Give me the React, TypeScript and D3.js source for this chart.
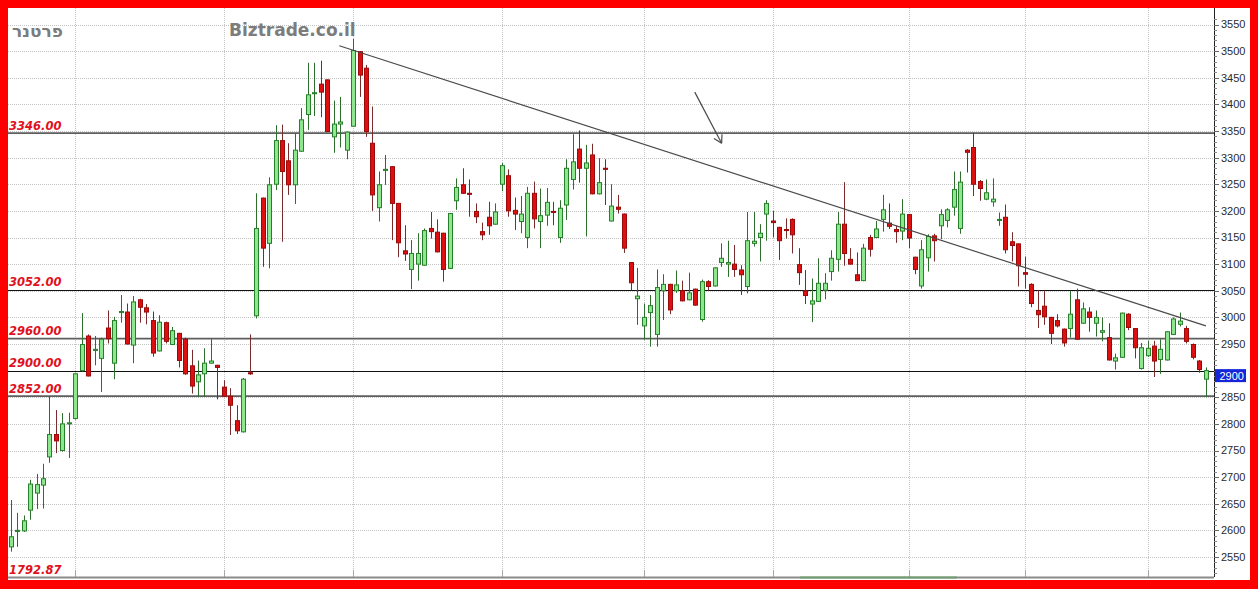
import React from 'react';
import * as d3 from 'd3';

// Daily OHLC for פרטנר (candles in chronological order)
const opens = [
  2569, 2598, 2599, 2638, 2670, 2685, 2738, 2780, 2750, 2800, 2810, 2900, 2965, 2938, 2923, 2980, 2914, 3009, 3010, 2948,
  3033, 3018, 2994, 2937, 2990, 2949, 2970, 2959, 2909, 2879, 2894, 2914, 2910, 2869, 2852, 2806, 2785, 2896,
  3003, 3224, 3139, 3250, 3332, 3294, 3249, 3312, 3381, 3420, 3438, 3446, 3339, 3363, 3314, 3359, 3499, 3468, 3327, 3206,
  3276, 3283, 3214, 3125, 3090, 3100, 3098, 3167, 3160, 3158, 3092, 3219, 3249, 3233, 3199, 3161, 3188,
  3175, 3250, 3266, 3201, 3180, 3150, 3233, 3180, 3192, 3199, 3150, 3211, 3259, 3316, 3280, 3305, 3232, 3280, 3181, 3207,
  3194, 3103, 3035, 2984, 3009, 2968, 3050, 3062, 3050, 3050, 3033, 3053, 2996, 3067, 3059, 3103, 3100,
  3100, 3089, 3058, 3139, 3150, 3194, 3181, 3169, 3165, 3184, 3099, 3050, 3025, 3030, 3051, 3086, 3109, 3175, 3109, 3080,
  3069, 3150, 3150, 3184, 3177, 3165, 3162, 3193, 3113, 3059, 3112, 3153, 3172, 3182, 3207, 3167, 3314,
  3319, 3255, 3222, 3217, 3182, 3188, 3142, 3138, 3084, 3062, 3013, 3021, 3000, 2994, 2978, 2979, 3033, 2989, 3010, 2989,
  2972, 2962, 2918, 2925, 3006, 2979, 2904, 2928, 2946, 2921, 2920, 2968, 2987, 2979, 2949, 2918, 2884,
];
const highs = [
  2657, 2633, 2628, 2695, 2706, 2725, 2851, 2826, 2820, 2821, 2895, 3008, 2968, 2965, 2962, 3013, 3001, 3042, 3026, 3040,
  3035, 3025, 3011, 3004, 2992, 2982, 2971, 2962, 2939, 2919, 2942, 2959, 2911, 2882, 2867, 2835, 2886, 2968,
  3233, 3225, 3263, 3361, 3362, 3327, 3346, 3393, 3478, 3478, 3482, 3447, 3407, 3414, 3349, 3523, 3500, 3474, 3396, 3274,
  3305, 3284, 3215, 3173, 3145, 3158, 3167, 3198, 3184, 3159, 3196, 3261, 3280, 3259, 3214, 3178, 3217,
  3214, 3290, 3278, 3225, 3228, 3245, 3255, 3242, 3243, 3217, 3220, 3297, 3344, 3351, 3324, 3326, 3299, 3297, 3250, 3230,
  3195, 3104, 3093, 3026, 3042, 3090, 3081, 3063, 3088, 3069, 3084, 3054, 3071, 3070, 3094, 3139, 3144,
  3136, 3098, 3198, 3198, 3175, 3220, 3200, 3170, 3186, 3186, 3130, 3089, 3073, 3111, 3083, 3126, 3198, 3254, 3130, 3122,
  3138, 3155, 3181, 3230, 3214, 3172, 3222, 3194, 3114, 3145, 3156, 3157, 3203, 3205, 3274, 3274, 3316,
  3347, 3258, 3259, 3261, 3197, 3212, 3160, 3139, 3114, 3064, 3051, 3051, 3001, 3006, 2979, 3050, 3054, 3028, 3019, 3013,
  3000, 2989, 2932, 3009, 3008, 2980, 2952, 2956, 2956, 2959, 2974, 3000, 3009, 2984, 2951, 2920, 2906,
];
const lows = [
  2560, 2569, 2597, 2620, 2640, 2641, 2727, 2745, 2748, 2736, 2808, 2898, 2889, 2910, 2860, 2951, 2884, 2990, 2949, 2914,
  2990, 2987, 2926, 2936, 2951, 2948, 2906, 2892, 2857, 2850, 2851, 2913, 2846, 2851, 2779, 2781, 2784, 2892,
  2998, 3095, 3092, 3239, 3142, 3230, 3213, 3311, 3352, 3378, 3376, 3348, 3309, 3319, 3297, 3358, 3414, 3339, 3200, 3180,
  3249, 3145, 3113, 3106, 3053, 3069, 3097, 3148, 3122, 3067, 3091, 3202, 3232, 3189, 3177, 3145, 3155,
  3174, 3237, 3189, 3164, 3158, 3130, 3167, 3130, 3172, 3173, 3140, 3183, 3240, 3253, 3152, 3231, 3231, 3211, 3180, 3195,
  3121, 3051, 2986, 2958, 2945, 2945, 2995, 3006, 3046, 3030, 3032, 3022, 2992, 3050, 3058, 3095, 3076,
  3076, 3042, 3045, 3133, 3105, 3144, 3150, 3108, 3148, 3120, 3061, 3025, 2991, 3029, 3034, 3069, 3086, 3097, 3099, 3068,
  3068, 3114, 3149, 3161, 3166, 3140, 3145, 3130, 3081, 3054, 3086, 3105, 3147, 3169, 3191, 3157, 3272,
  3228, 3219, 3220, 3208, 3172, 3120, 3105, 3058, 3054, 3019, 2980, 2986, 2950, 2981, 2945, 2962, 2958, 2988, 2973, 2964,
  2955, 2919, 2902, 2924, 2976, 2923, 2902, 2926, 2888, 2894, 2919, 2967, 2983, 2951, 2921, 2896, 2850,
];
const closes = [
  2588, 2600, 2618, 2687, 2686, 2697, 2780, 2768, 2800, 2802, 2894, 2949, 2890, 2940, 2959, 2960, 2994, 3011, 2950, 3029,
  3019, 3010, 2933, 2991, 2955, 2975, 2919, 2894, 2871, 2892, 2914, 2918, 2906, 2852, 2835, 2787, 2884, 2894,
  3167, 3130, 3249, 3332, 3274, 3249, 3314, 3371, 3418, 3422, 3423, 3349, 3363, 3367, 3348, 3501, 3455, 3349, 3230, 3249,
  3278, 3214, 3140, 3119, 3120, 3120, 3163, 3161, 3123, 3090, 3195, 3244, 3233, 3231, 3189, 3155, 3172,
  3198, 3285, 3200, 3194, 3194, 3233, 3185, 3191, 3216, 3197, 3205, 3280, 3292, 3280, 3290, 3232, 3253, 3278, 3209, 3203,
  3130, 3065, 3040, 3000, 3022, 3056, 3062, 3014, 3061, 3031, 3046, 3023, 3067, 3058, 3093, 3111, 3103,
  3090, 3080, 3144, 3143, 3158, 3214, 3178, 3144, 3163, 3155, 3084, 3041, 3031, 3064, 3064, 3111, 3175, 3120, 3100, 3069,
  3130, 3128, 3166, 3202, 3171, 3161, 3194, 3149, 3090, 3127, 3152, 3144, 3193, 3202, 3240, 3254, 3310,
  3250, 3242, 3234, 3222, 3184, 3127, 3135, 3097, 3081, 3026, 3005, 3001, 2970, 2984, 2952, 3006, 2959, 3016, 3000, 3000,
  2975, 2920, 2924, 3008, 2981, 2943, 2943, 2942, 2918, 2940, 2973, 2997, 2993, 2955, 2925, 2902, 2900,
];

// Support / resistance levels with their labels
const levels = [3346, 3052, 2960, 2900, 2852];
const heavyLevels = [3346, 2960, 2852];
const lowLabel = '1792.87';
const lastPrice = 2900;

// Price axis ticks
const majorTicks = d3.range(2550, 3551, 50);
const minorTicks = d3.range(2520, 3561, 10);

// Candle indices where a new month begins
const monthStarts = [10, 33, 53, 76, 98, 118, 139, 157, 176];

// Falling trend line and the pointer arrow, in (candle index, price)
const trendLine = [
  { i: 50.87, v: 3510 },
  { i: 185.03, v: 2984 },
];
const pointer = [
  { i: 105.9, v: 3423 },
  { i: 110.06, v: 3327 },
];

const W = 1258;
const H = 589;
const border = 8;
const axisX = 1214;
const plotBottom = 577;

export default function App() {
  const n = closes.length;
  const x = d3.scaleLinear().domain([0, n - 1]).range([10.7, 1205.7]);
  const y = d3.scaleLinear().domain([2550, 3550]).range([557, 24.5]);

  const candles = closes.map((c, i) => ({ o: opens[i], h: highs[i], l: lows[i], c }));

  const line = d3
    .line<{ i: number; v: number }>()
    .x((d) => x(d.i))
    .y((d) => y(d.v));

  // arrow head geometry
  const p0 = { x: x(pointer[0].i), y: y(pointer[0].v) };
  const p1 = { x: x(pointer[1].i), y: y(pointer[1].v) };
  const ang = Math.atan2(p1.y - p0.y, p1.x - p0.x) + Math.PI;
  const headLen = 9;
  const head = [ang - Math.PI / 6, ang + Math.PI / 6].map((a) => ({
    x: p1.x + headLen * Math.cos(a),
    y: p1.y + headLen * Math.sin(a),
  }));

  const labelFont = 'DejaVu Sans, Verdana, sans-serif';

  return (
    <svg
      width={W}
      height={H}
      style={{ position: 'absolute', left: 0, top: 0, display: 'block' }}
    >
      <rect x={0} y={0} width={W} height={H} fill="#ff0000" />
      <rect x={border} y={border} width={1242} height={572} fill="#ffffff" />

      {/* horizontal grid */}
      {majorTicks.map((t) => (
        <line
          key={'hg' + t}
          x1={border}
          x2={axisX}
          y1={Math.round(y(t)) + 0.5}
          y2={Math.round(y(t)) + 0.5}
          stroke="#c4c4c4"
          strokeDasharray="1 1"
        />
      ))}
      {/* vertical grid at month starts */}
      {monthStarts.map((m) => (
        <line
          key={'vg' + m}
          x1={Math.round(x(m)) + 0.5}
          x2={Math.round(x(m)) + 0.5}
          y1={border}
          y2={plotBottom}
          stroke="#c4c4c4"
          strokeDasharray="1 1"
        />
      ))}
      {monthStarts.map((m) => (
        <line
          key={'vt' + m}
          x1={Math.round(x(m)) + 0.5}
          x2={Math.round(x(m)) + 0.5}
          y1={plotBottom - 7}
          y2={plotBottom}
          stroke="#a8a8a8"
        />
      ))}

      {/* level lines */}
      {levels.map((lv) => {
        const heavy = heavyLevels.includes(lv);
        return (
          <line
            key={'lv' + lv}
            x1={border}
            x2={axisX}
            y1={heavy ? y(lv) : Math.round(y(lv)) + 0.5}
            y2={heavy ? y(lv) : Math.round(y(lv)) + 0.5}
            stroke={heavy ? '#5e5e5e' : '#111111'}
            strokeWidth={heavy ? 1.7 : 1}
          />
        );
      })}

      {/* candles */}
      {candles.map((d, i) => {
        const up = d.c >= d.o;
        const cx = Math.round(x(i)) + 0.5;
        const top = y(Math.max(d.o, d.c));
        const bot = y(Math.min(d.o, d.c));
        return (
          <g key={'c' + i}>
            <line
              x1={cx}
              x2={cx}
              y1={y(d.h)}
              y2={y(d.l)}
              stroke={up ? '#2d6e2d' : '#7a2c2c'}
              strokeWidth={1}
            />
            <rect
              x={cx - 2}
              y={top}
              width={4}
              height={Math.max(bot - top, 0.8)}
              fill={up ? '#8ee68e' : '#dc1010'}
              stroke={up ? '#26802a' : '#9a0a0a'}
              strokeWidth={1}
            />
          </g>
        );
      })}

      {/* trend line */}
      <path d={line(trendLine) ?? ''} fill="none" stroke="#4a4a4a" strokeWidth={1.2} />

      {/* pointer arrow */}
      <line x1={p0.x} y1={p0.y} x2={p1.x} y2={p1.y} stroke="#4a4a4a" strokeWidth={1.2} />
      {head.map((h, k) => (
        <line key={'ah' + k} x1={p1.x} y1={p1.y} x2={h.x} y2={h.y} stroke="#4a4a4a" strokeWidth={1.2} />
      ))}

      {/* level labels */}
      {levels.map((lv) => (
        <text
          key={'ll' + lv}
          x={9}
          y={y(lv) - 3.5}
          fontFamily={labelFont}
          fontSize={11.5}
          fontStyle="italic"
          fontWeight="bold"
          fill="#e0101c"
        >
          {lv.toFixed(2)}
        </text>
      ))}
      <text
        x={9}
        y={574}
        fontFamily={labelFont}
        fontSize={11.5}
        fontStyle="italic"
        fontWeight="bold"
        fill="#e0101c"
      >
        {lowLabel}
      </text>

      {/* title and source */}
      <text x={12} y={37} fontFamily={labelFont} fontSize={17} fontWeight="bold" fill="#7c7c7c">
        פרטנר
      </text>
      <text x={229} y={36} fontFamily={labelFont} fontSize={17} fontWeight="bold" fill="#7c7c7c">
        Biztrade.co.il
      </text>

      {/* bottom axis */}
      <line x1={border} x2={axisX} y1={plotBottom + 0.5} y2={plotBottom + 0.5} stroke="#8a8a8a" strokeWidth={2} />
      <line x1={800} x2={957} y1={plotBottom + 0.5} y2={plotBottom + 0.5} stroke="#6f9f6f" strokeWidth={2} />

      {/* price axis */}
      <line x1={axisX + 0.5} x2={axisX + 0.5} y1={border} y2={plotBottom} stroke="#222222" />
      {minorTicks.map((t) => (
        <line
          key={'mt' + t}
          x1={axisX}
          x2={axisX + 3}
          y1={Math.round(y(t)) + 0.5}
          y2={Math.round(y(t)) + 0.5}
          stroke="#888888"
        />
      ))}
      {majorTicks
        .filter((t) => t !== lastPrice)
        .map((t) => (
          <g key={'tk' + t}>
            <line
              x1={axisX}
              x2={axisX + 5}
              y1={Math.round(y(t)) + 0.5}
              y2={Math.round(y(t)) + 0.5}
              stroke="#666666"
            />
            <text
              x={1221}
              y={y(t)}
              dy="0.36em"
              fontFamily="Liberation Sans, Arial, sans-serif"
              fontSize={11}
              fill="#2a2a2a"
            >
              {t}
            </text>
          </g>
        ))}

      {/* last price tag */}
      <rect x={1215} y={y(lastPrice) - 1.5} width={31} height={13} fill="#1426d8" />
      <text
        x={1219.5}
        y={y(lastPrice) + 9.5}
        fontFamily="Liberation Sans, Arial, sans-serif"
        fontSize={11}
        fill="#ffffff"
      >
        {lastPrice}
      </text>
    </svg>
  );
}
